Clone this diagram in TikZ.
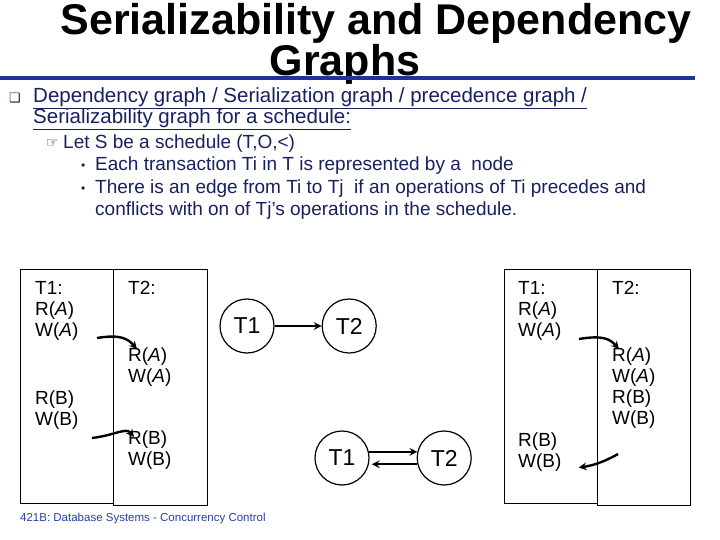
\documentclass[tikz,border=0pt]{standalone}
\usepackage{fontspec}
\setmainfont{Liberation Sans}
\newfontfamily\symfont{DejaVu Sans}
\usepackage{xcolor}
\usetikzlibrary{arrows, positioning, calc}

\definecolor{rulecolor}{RGB}{32,52,150}
\definecolor{navytext}{RGB}{24,32,96}
\definecolor{footcolor}{RGB}{40,64,160}

\begin{document}
\begin{tikzpicture}[
    x=1pt, y=-1pt,
    node distance=47pt,
    title/.style={align=center, inner sep=0pt, font=\fontsize{43}{31}\selectfont\bfseries},
    bodyline/.style={anchor=base west, inner sep=0pt, text=navytext},
    ops/.style={align=left, anchor=north west, inner sep=0pt,
      font=\fontsize{19}{21}\selectfont},
    column/.style={draw, line width=0.9pt},
    txn/.style={draw, circle, line width=1.2pt, minimum size=54pt,
      inner sep=0pt, font=\fontsize{23}{23}\selectfont},
    arrow/.style={line width=2.4pt,->,>=stealth}
]
\useasboundingbox (0,0) rectangle (720,540);

% heading
\node[title, anchor=north] (head) at (376,3)
  {Serializability and Dependency\\Graphs\hspace*{62pt}};
\draw[rulecolor, line width=3.5pt] (0,78) -- (695,78);

% definition text
\node[bodyline, font=\symfont\fontsize{13}{13}\selectfont] (sq) at (9,103) {❑};
\node[bodyline, font=\fontsize{20.5}{20.5}\selectfont] (def1) at (33,103)
  {\underline{Dependency graph / Serialization graph / precedence graph /}};
\node[bodyline, font=\fontsize{20.5}{20.5}\selectfont] (def2) at (33,124)
  {\underline{Serializability graph for a schedule:}};
\node[bodyline, font=\symfont\fontsize{14}{14}\selectfont] (hand) at (46,148) {☞};
\node[bodyline, font=\fontsize{19}{19}\selectfont] (let) at (63,149)
  {Let S be a schedule (T,O,<)};
\node[bodyline, font=\fontsize{12}{12}\selectfont] (dot1) at (81,170) {•};
\node[bodyline, font=\fontsize{19}{19}\selectfont] (each) at (95,171)
  {Each transaction Ti in T is represented by a~ node};
\node[bodyline, font=\fontsize{12}{12}\selectfont] (dot2) at (81,193) {•};
\node[bodyline, font=\fontsize{19}{19}\selectfont] (edge1) at (95,194)
  {There is an edge from Ti to Tj~ if an operations of Ti precedes and};
\node[bodyline, font=\fontsize{19}{19}\selectfont] (edge2) at (95,215)
  {conflicts with on of Tj’s operations in the schedule.};

% left schedule
\draw[column] (20,269) rectangle (113,503);
\draw[column] (113,269) rectangle (207,505);
\node[ops] (lt1) at (35,281) {T1:\\R(\textit{A})\\W(\textit{A})};
\node[ops] (lt1b) at (35,391) {R(B)\\W(B)};
\node[ops] (lt2) at (128,281) {T2:};
\node[ops] (lt2a) at (128,348) {R(\textit{A})\\W(\textit{A})};
\node[ops] (lt2b) at (128,431) {R(B)\\W(B)};
\coordinate (la1) at (97,338);
\coordinate (lb1) at (92,438);
\draw[arrow] (la1) .. controls +(24,-4) and +(-9,-10) .. ([xshift=9pt,yshift=-1pt]lt2a.north west);
\draw[arrow] (lb1) .. controls +(24,-3) and +(-8,-10) .. ([xshift=6pt,yshift=-6pt]lt2b.north west);

% graph of the first schedule
\node[txn] (g1a) at (247,326) {T1};
\node[txn, right=of g1a] (g1b) {T2};
\draw[arrow] (g1a) -- (g1b);

% graph of the second schedule
\node[txn] (g2a) at (342,458) {T1};
\node[txn, right=of g2a] (g2b) {T2};
\draw[arrow] (g2a.13) -- (g2b.167);
\draw[arrow] (g2b.193) -- ([xshift=3pt]g2a.-13);

% right schedule
\draw[column] (504,269) rectangle (597,503);
\draw[column] (597,269) rectangle (690,505);
\node[ops] (rt1) at (518,281) {T1:\\R(\textit{A})\\W(\textit{A})};
\node[ops] (rt1b) at (518,433) {R(B)\\W(B)};
\node[ops] (rt2) at (612,281) {T2:};
\node[ops] (rt2a) at (612,348) {R(\textit{A})\\W(\textit{A})\\R(B)\\W(B)};
\coordinate (ra1) at (579,339);
\coordinate (rb2) at (618,454);
\draw[arrow] (ra1) .. controls +(24,-4) and +(-9,-10) .. ([xshift=7pt,yshift=-1pt]rt2a.north west);
\draw[arrow] (rb2) .. controls +(-14,8) and +(14,-2) .. ([xshift=17pt,yshift=-15pt]rt1b.east);

% footer
\node[anchor=base west, inner sep=0pt, text=footcolor, font=\fontsize{11.5}{11.5}\selectfont]
  (foot) at (20,521) {421B: Database Systems - Concurrency Control};
\end{tikzpicture}
\end{document}
